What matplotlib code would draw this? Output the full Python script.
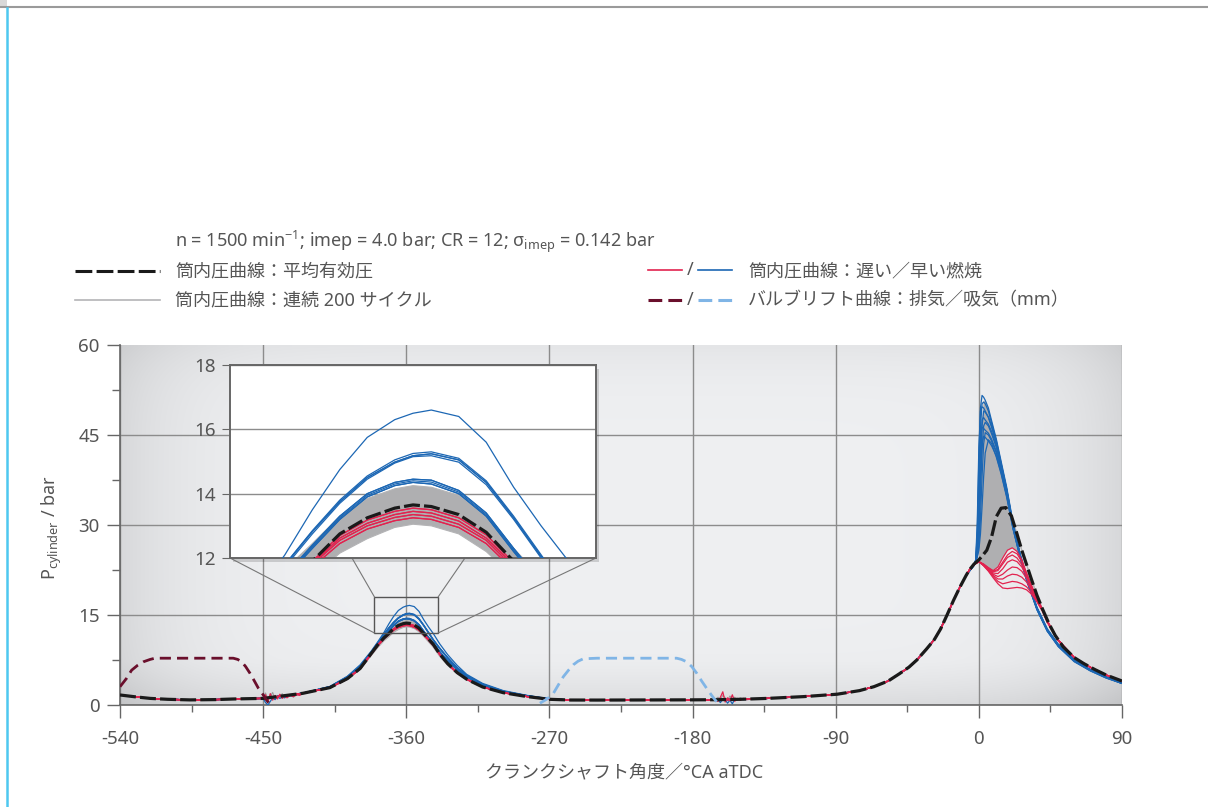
import numpy as np
import matplotlib
matplotlib.use("Agg")
import matplotlib.pyplot as plt
from matplotlib.lines import Line2D
from matplotlib.patches import Rectangle, Polygon, ConnectionPatch

plt.rcParams['font.family'] = ['Noto Sans', 'Noto Sans CJK JP', 'DejaVu Sans']
plt.rcParams['axes.unicode_minus'] = False
plt.rcParams['mathtext.fontset'] = 'custom'
plt.rcParams['mathtext.rm'] = 'Noto Sans'
plt.rcParams['mathtext.it'] = 'Noto Sans:italic'
plt.rcParams['mathtext.bf'] = 'Noto Sans:bold'

W, H = 1208, 807

# colours
BLUE = '#1c67b4'
RED = '#e2234f'
BLACK = '#1a1a1a'
GRAY_LINE = '#b4b4b6'
GRAY_FILL = '#afafb1'
MAROON = '#6a0f2c'
LIGHT_BLUE = '#80b5e6'
TEXT = '#555555'

# ---- data ----
# intake stroke (common to all cycles)
x_in = [-540, -530, -521, -510, -496, -480, -469, -460]
y_in = [1.67, 1.35, 1.1, 0.95, 0.85, 0.9, 1.0, 1.05]

# gas exchange TDC region (-450 .. -257)
x_cmp = [-450, -425, -408, -397, -389, -382, -378, -374, -371, -368,
         -365, -362, -360, -358, -355, -352, -349, -346, -343, -339,
         -334, -328, -322, -312, -299, -284, -270, -257]
mean_cmp = [1.1, 1.95, 2.9, 4.4, 6.1, 8.6, 10.0, 11.2, 11.9, 12.75,
            13.25, 13.55, 13.65, 13.6, 13.35, 12.8, 11.9, 11.0, 10.1, 8.5,
            6.9, 5.4, 4.3, 3.0, 2.05, 1.4, 0.95, 0.83]
gray_hi = [1.1, 1.97, 2.95, 4.5, 6.25, 8.9, 10.4, 11.65, 12.45, 13.3,
           13.85, 14.15, 14.25, 14.2, 13.95, 13.35, 12.3, 11.4, 10.5, 8.85,
           7.15, 5.55, 4.4, 3.1, 2.1, 1.43, 0.97, 0.84]
gray_lo = [1.1, 1.92, 2.85, 4.3, 5.95, 8.3, 9.6, 10.75, 11.4, 12.15,
           12.6, 12.95, 13.05, 13.0, 12.75, 12.2, 11.4, 10.5, 9.6, 8.1,
           6.6, 5.2, 4.15, 2.95, 2.0, 1.38, 0.93, 0.82]
red_cmp = [
    [1.1, 1.95, 2.9, 4.4, 6.1, 8.6, 10.0, 11.2, 11.9, 12.7,
     13.18, 13.45, 13.55, 13.5, 13.25, 12.72, 11.85, 10.95, 10.05, 8.5,
     6.9, 5.4, 4.3, 3.0, 2.05, 1.4, 0.95, 0.83],
    [1.1, 1.95, 2.9, 4.4, 6.1, 8.55, 9.95, 11.15, 11.85, 12.62,
     13.08, 13.35, 13.45, 13.4, 13.15, 12.62, 11.78, 10.9, 10.0, 8.45,
     6.88, 5.4, 4.3, 3.0, 2.05, 1.4, 0.95, 0.83],
    [1.1, 1.94, 2.88, 4.38, 6.05, 8.5, 9.9, 11.1, 11.8, 12.55,
     13.0, 13.26, 13.35, 13.3, 13.05, 12.55, 11.7, 10.85, 9.95, 8.45,
     6.85, 5.38, 4.3, 3.0, 2.05, 1.4, 0.95, 0.83],
    [1.1, 1.93, 2.87, 4.35, 6.0, 8.45, 9.85, 11.05, 11.72, 12.45,
     12.9, 13.16, 13.25, 13.2, 12.95, 12.45, 11.62, 10.8, 9.9, 8.4,
     6.82, 5.36, 4.28, 3.0, 2.05, 1.4, 0.95, 0.83],
]
blue_cmp = [
    [1.1, 2.0, 3.1, 4.8, 6.7, 9.0, 10.5, 12.1, 13.5, 14.75,
     15.75, 16.3, 16.5, 16.6, 16.4, 15.6, 14.2, 13.0, 11.9, 10.2,
     8.4, 6.6, 5.1, 3.6, 2.4, 1.6, 1.05, 0.85],
    [1.1, 1.98, 3.05, 4.7, 6.5, 8.8, 10.3, 11.8, 12.85, 13.8,
     14.55, 15.05, 15.25, 15.3, 15.1, 14.4, 13.3, 12.1, 10.9, 9.5,
     7.9, 6.2, 4.9, 3.45, 2.3, 1.55, 1.0, 0.85],
    [1.1, 1.98, 3.05, 4.7, 6.5, 8.8, 10.3, 11.78, 12.82, 13.75,
     14.5, 14.98, 15.18, 15.24, 15.05, 14.35, 13.25, 12.05, 10.85, 9.45,
     7.9, 6.2, 4.9, 3.45, 2.3, 1.55, 1.0, 0.85],
    [1.1, 1.98, 3.05, 4.7, 6.5, 8.75, 10.25, 11.72, 12.75, 13.7,
     14.45, 14.95, 15.15, 15.18, 14.98, 14.28, 13.2, 12.0, 10.8, 9.4,
     7.85, 6.2, 4.9, 3.45, 2.3, 1.55, 1.0, 0.85],
    [1.1, 1.97, 3.0, 4.6, 6.35, 8.6, 10.1, 11.45, 12.4, 13.3,
     14.0, 14.35, 14.45, 14.42, 14.1, 13.4, 12.3, 11.25, 10.3, 8.9,
     7.4, 5.9, 4.7, 3.3, 2.2, 1.5, 1.0, 0.84],
    [1.1, 1.97, 3.0, 4.6, 6.35, 8.6, 10.08, 11.42, 12.35, 13.25,
     13.95, 14.3, 14.4, 14.36, 14.05, 13.35, 12.25, 11.2, 10.25, 8.85,
     7.4, 5.9, 4.7, 3.3, 2.2, 1.5, 1.0, 0.84],
    [1.1, 1.97, 3.0, 4.6, 6.35, 8.55, 10.05, 11.38, 12.3, 13.2,
     13.9, 14.25, 14.35, 14.3, 14.0, 13.3, 12.2, 11.15, 10.2, 8.8,
     7.35, 5.9, 4.7, 3.3, 2.2, 1.5, 1.0, 0.84],
]
blue_cmp_of_cycle = [0, 1, 2, 3, 4, 5, 6, 4, 2, 6]
red_cmp_of_cycle = [0, 1, 2, 3, 0, 1, 2, 3]

# low pressure part up to ignition
x_mid = [-240, -225, -210, -195, -180, -165, -150, -133, -110, -89,
         -75, -66, -57, -50, -44, -39, -33, -28, -24, -20, -16, -12, -8]
y_mid = [0.82, 0.83, 0.84, 0.85, 0.86, 0.88, 0.95, 1.1, 1.4, 1.8,
         2.4, 3.05, 4.0, 5.2, 6.3, 7.5, 9.3, 10.9, 12.7, 15.0, 17.4, 19.6, 21.6]

# combustion: mean
x_mean_c = [-6, -3, 0, 2, 5, 8, 11, 14, 17, 20.5, 24, 27, 30, 33, 36.5,
            40, 44, 48, 53, 60, 66, 73, 80, 85, 90]
mean_c = [22.5, 23.5, 24.2, 24.8, 25.8, 28.0, 31.4, 32.8, 32.9, 31.5, 28.5,
          25.8, 23.4, 21.0, 18.3, 16.0, 13.6, 11.6, 9.7, 7.9, 6.9, 5.9, 5.0, 4.5, 4.0]

# combustion: early burning cycles
x_blue_c = [-6, -3, -2, -1, 0, 1, 2, 3, 4, 6, 8, 11, 14, 17.5, 21.5, 26, 30,
            36.5, 43, 50, 60, 70, 80, 90]
blue_c = [
    [22.4, 23.4, 24.0, 29.0, 41.0, 49.5, 51.6, 51.3, 50.8, 49.5, 47.4, 44.3,
     40.6, 36.3, 30.4, 25.2, 21.4, 16.3, 12.7, 10.1, 7.5, 5.9, 4.7, 3.7],
    [22.4, 23.4, 24.1, 27.0, 36.0, 46.0, 50.2, 50.5, 50.2, 49.0, 47.0, 44.0,
     40.3, 36.0, 30.2, 25.0, 21.3, 16.2, 12.6, 10.0, 7.5, 5.9, 4.7, 3.7],
    [22.4, 23.4, 24.2, 30.5, 43.0, 49.0, 49.7, 49.5, 49.0, 47.9, 46.3, 43.6,
     40.0, 35.8, 30.0, 24.9, 21.2, 16.2, 12.6, 10.0, 7.5, 5.9, 4.6, 3.7],
    [22.3, 23.3, 23.9, 25.5, 30.0, 39.0, 46.5, 49.0, 48.8, 48.0, 46.5, 43.8,
     40.1, 35.9, 30.1, 25.0, 21.2, 16.2, 12.6, 10.0, 7.5, 5.9, 4.6, 3.7],
    [22.3, 23.3, 24.0, 26.5, 33.0, 42.0, 47.5, 47.9, 47.5, 46.8, 45.6, 43.2,
     39.8, 35.6, 29.9, 24.9, 21.1, 16.1, 12.5, 9.9, 7.4, 5.8, 4.6, 3.6],
    [22.3, 23.3, 23.9, 25.0, 28.0, 35.0, 42.5, 46.5, 47.1, 46.5, 45.2, 42.9,
     39.6, 35.5, 29.8, 24.8, 21.0, 16.1, 12.5, 9.9, 7.4, 5.8, 4.6, 3.6],
    [22.3, 23.4, 24.1, 28.0, 38.0, 44.5, 46.3, 46.1, 45.8, 45.3, 44.3, 42.3,
     39.2, 35.2, 29.6, 24.7, 21.0, 16.0, 12.4, 9.8, 7.3, 5.8, 4.6, 3.6],
    [22.3, 23.3, 23.8, 24.8, 26.5, 31.0, 38.0, 43.5, 45.4, 45.0, 44.0, 42.0,
     39.0, 35.0, 29.5, 24.6, 20.9, 16.0, 12.4, 9.8, 7.3, 5.8, 4.6, 3.6],
    [22.3, 23.3, 24.0, 26.0, 31.0, 38.5, 43.5, 44.8, 44.6, 44.0, 43.2, 41.5,
     38.7, 34.8, 29.4, 24.5, 20.8, 15.9, 12.3, 9.8, 7.3, 5.7, 4.5, 3.6],
    [22.3, 23.3, 23.8, 24.6, 25.8, 28.5, 33.0, 38.0, 42.0, 44.2, 43.6, 41.3,
     38.5, 34.6, 29.3, 24.5, 20.8, 15.9, 12.3, 9.7, 7.2, 5.7, 4.5, 3.6],
]

# combustion: late burning cycles
x_red_c = [-6, -3, 0, 3, 6, 9, 12, 15, 18, 21, 24, 27, 30, 33, 36.5, 40, 43,
           50, 60, 70, 80, 90]
red_c = [
    [22.5, 23.4, 23.9, 23.5, 22.9, 22.4, 23.0, 24.5, 25.8, 26.2, 25.6,
     24.2, 22.0, 20.0, 17.8, 15.9, 14.0, 10.8, 7.9, 6.3, 5.0, 4.0],
    [22.5, 23.4, 23.9, 23.4, 22.8, 22.3, 22.6, 23.8, 25.0, 25.6, 25.2,
     23.9, 21.9, 19.9, 17.8, 15.9, 14.0, 10.8, 7.9, 6.3, 5.0, 4.0],
    [22.5, 23.4, 23.9, 23.4, 22.8, 22.2, 22.4, 23.5, 24.6, 25.0, 24.5,
     23.4, 21.7, 19.8, 17.7, 15.9, 14.0, 10.8, 7.9, 6.3, 5.0, 4.0],
    [22.5, 23.4, 23.9, 23.4, 22.7, 22.0, 21.9, 22.7, 23.8, 24.2, 23.9,
     23.0, 21.5, 19.7, 17.7, 15.9, 14.0, 10.8, 7.9, 6.3, 5.0, 4.0],
    [22.5, 23.4, 23.9, 23.3, 22.6, 21.8, 21.4, 21.8, 22.5, 23.0, 22.9,
     22.3, 21.1, 19.5, 17.6, 15.8, 13.9, 10.8, 7.9, 6.3, 5.0, 4.0],
    [22.5, 23.4, 23.9, 23.3, 22.5, 21.6, 21.0, 21.0, 21.5, 21.8, 21.7,
     21.3, 20.5, 19.2, 17.5, 15.8, 13.9, 10.7, 7.9, 6.3, 5.0, 4.0],
    [22.5, 23.4, 23.9, 23.2, 22.4, 21.4, 20.6, 20.2, 20.4, 20.6, 20.5,
     20.2, 19.7, 18.8, 17.3, 15.7, 13.8, 10.7, 7.9, 6.3, 5.0, 4.0],
    [22.5, 23.4, 23.9, 23.2, 22.3, 21.2, 20.2, 19.5, 19.4, 19.5, 19.6,
     19.5, 19.2, 18.5, 17.2, 15.6, 13.8, 10.7, 7.9, 6.3, 5.0, 4.0],
]

# band of the 200 cycles around firing TDC
gray_poly_x = [0, 1, 2, 3, 4, 6, 8, 11, 14, 17.5, 21.5, 26,
               24, 21, 18, 15, 12, 9, 6, 3]
gray_poly_y = [24.2, 38.0, 47.0, 50.5, 50.8, 49.5, 47.4, 44.3, 40.6, 36.3, 30.4, 25.2,
               25.6, 26.2, 25.8, 24.5, 23.0, 22.4, 22.9, 23.5]

# valve ringing noise
nz1_x = [-450, -448.5, -447, -445.5, -444, -442.5, -441, -439.5, -438, -436.5,
         -435, -433, -431, -429, -427, -425]
nz1_gray = [1.1, 2.0, 1.0, 1.4, 2.1, 0.9, 1.6, 1.3, 1.9, 1.2, 1.5, 1.8, 1.3, 1.7, 1.8, 1.95]
nz1_blue = [1.1, 0.4, 0.0, 0.6, 1.2, 0.9, 1.4, 1.1, 1.3, 1.2, 1.4, 1.5, 1.55, 1.7, 1.8, 1.95]
nz1_red = [1.1, 1.7, 0.6, 1.9, 0.8, 1.6, 1.0, 1.8, 1.1, 1.5, 1.2, 1.6, 1.4, 1.7, 1.6, 1.95]
nz2_x = [-166, -164, -162.5, -161, -159.5, -158, -156.5, -155, -153.5, -152,
         -150, -148, -146, -144]
nz2_gray = [0.88, 1.3, 0.9, 1.6, 1.2, 0.8, 1.5, 1.0, 1.3, 0.8, 1.2, 0.9, 1.0, 0.95]
nz2_blue = [0.88, 0.9, 0.4, 1.0, 0.9, 0.3, 0.8, 0.2, 1.0, 0.9, 0.95, 0.9, 0.92, 0.95]
nz2_red = [0.88, 0.6, 1.3, 2.2, 0.5, 1.2, 0.7, 1.7, 0.6, 1.1, 0.8, 1.1, 0.9, 0.95]

# valve lift (mm)
exh_x = [-540, -536, -532.7, -529, -525.3, -521, -518, -500, -480, -468.8,
         -466, -463.5, -461, -458.3, -455.5, -453, -450, -447.8, -446]
exh_y = [3.05, 4.4, 5.8, 6.6, 7.2, 7.6, 7.8, 7.8, 7.8, 7.8,
         7.6, 7.2, 6.4, 5.3, 4.0, 2.8, 1.7, 0.8, 0.2]
int_x = [-276, -271.5, -267.6, -264.5, -261.3, -258, -255, -252, -248.7, -240,
         -220, -200, -190, -187, -183.7, -180.5, -177.4, -174.3, -171.2, -168, -164.9]
int_y = [0.3, 1.0, 1.9, 3.3, 4.7, 5.8, 6.7, 7.3, 7.7, 7.8,
         7.8, 7.8, 7.8, 7.6, 7.2, 6.4, 5.3, 4.0, 2.8, 1.6, 0.55]

x_ticks = [-540, -450, -360, -270, -180, -90, 0, 90]
y_ticks = [0, 15, 30, 45, 60]


def fx(px):
    return px / W


def fy(py):
    return 1 - py / H


def cycle(cmp_y, comb_x, comb_y):
    return x_in + x_cmp + x_mid + comb_x, y_in + cmp_y + y_mid + comb_y


def draw_curves(a, noise=False):
    a.fill_between(x_cmp, gray_lo, gray_hi, color=GRAY_FILL, lw=0, zorder=2)
    a.add_patch(Polygon(list(zip(gray_poly_x, gray_poly_y)), closed=True,
                        facecolor=GRAY_FILL, edgecolor='none', zorder=2))
    for gy in (gray_hi, gray_lo):
        xs, ys = cycle(gy, x_mean_c, mean_c)
        a.plot(xs, ys, color=GRAY_LINE, lw=0.8, zorder=2)
    if noise:
        a.plot(nz1_x, nz1_gray, color='#9c9c9c', lw=0.8, zorder=2)
        a.plot(nz2_x, nz2_gray, color='#9c9c9c', lw=0.8, zorder=2)
        a.plot(nz1_x, nz1_blue, color=BLUE, lw=0.9, zorder=3)
        a.plot(nz2_x, nz2_blue, color=BLUE, lw=0.9, zorder=3)
        a.plot(nz1_x, nz1_red, color=RED, lw=0.9, zorder=4)
        a.plot(nz2_x, nz2_red, color=RED, lw=0.9, zorder=4)
    for i, comb in enumerate(blue_c):
        xs, ys = cycle(blue_cmp[blue_cmp_of_cycle[i]], x_blue_c, comb)
        a.plot(xs, ys, color=BLUE, lw=0.9, zorder=3)
    for i, comb in enumerate(red_c):
        xs, ys = cycle(red_cmp[red_cmp_of_cycle[i]], x_red_c, comb)
        a.plot(xs, ys, color=RED, lw=0.9, zorder=4)
    xs, ys = cycle(mean_cmp, x_mean_c, mean_c)
    a.plot(xs, ys, color=BLACK, lw=2.3, dashes=(5, 1.3), zorder=5)


fig = plt.figure(figsize=(W / 100, H / 100), dpi=100)
fig.patch.set_facecolor('white')

# main axes
ax = fig.add_axes([fx(120), fy(705), 1002 / W, 360 / H], zorder=0)
ax.set_facecolor('white')
u = np.linspace(0, 1, 300)
v = np.linspace(0, 1, 120)
U, V = np.meshgrid(u, v)
shade = 0.935 - 0.09 * np.abs(2 * U - 1) ** 7 - 0.04 * np.abs(2 * V - 1) ** 6
shade -= 0.035 * np.clip((0.12 - V) / 0.12, 0, 1)
rgb = np.dstack([shade, shade + 0.004, shade + 0.012]).clip(0, 1)
ax.imshow(rgb, extent=[0, 1, 0, 1], transform=ax.transAxes, aspect='auto',
          origin='lower', zorder=0, interpolation='bilinear')

draw_curves(ax, noise=True)
ax.plot(exh_x, exh_y, color=MAROON, lw=2.0, dashes=(4, 2.2), zorder=6)
ax.plot(int_x, int_y, color=LIGHT_BLUE, lw=2.0, dashes=(4, 2.2), zorder=6)
ax.add_patch(Rectangle((-380, 12), 40, 6, fill=False, ec='#555555', lw=1.0, zorder=7))

ax.set_xlim(-540, 90)
ax.set_ylim(0, 60)
ax.set_xticks(x_ticks)
ax.set_xticklabels([str(t) for t in x_ticks])
ax.set_xticks([t + 45 for t in x_ticks[:-1]], minor=True)
ax.set_yticks(y_ticks)
ax.set_yticks([7.5, 22.5, 37.5, 52.5], minor=True)
ax.tick_params(axis='both', which='both', color='#666666', width=1,
               labelsize=13.5, labelcolor=TEXT)
ax.tick_params(axis='y', which='major', length=9.5, pad=5)
ax.tick_params(axis='y', which='minor', length=6)
ax.tick_params(axis='x', which='major', length=9, pad=9)
ax.tick_params(axis='x', which='minor', length=5)
ax.grid(True, which='major', color='#8c8c8c', lw=1.0)
ax.set_axisbelow(True)
ax.yaxis.get_gridlines()[-1].set_visible(False)
for side in ('top', 'right'):
    ax.spines[side].set_visible(False)
for side in ('left', 'bottom'):
    ax.spines[side].set_color('#666666')
    ax.spines[side].set_linewidth(1.2)

# inset shadow
fig.add_artist(Rectangle((fx(233), fy(562)), 366 / W, 193 / H,
                         transform=fig.transFigure, facecolor='#000000',
                         alpha=0.15, edgecolor='none', zorder=1))

# inset
ax_in = fig.add_axes([fx(230), fy(558), 366 / W, 193 / H], zorder=2)
ax_in.set_facecolor('white')
draw_curves(ax_in)
ax_in.set_xlim(-380, -340)
ax_in.set_ylim(12, 18)
ax_in.set_xticks([])
ax_in.set_yticks([12, 14, 16, 18])
ax_in.tick_params(axis='y', length=6, color='#666666', labelsize=13.5,
                  labelcolor=TEXT, pad=4)
ax_in.grid(True, axis='y', color='#8c8c8c', lw=1.0)
for s in ax_in.spines.values():
    s.set_color('#666666')
    s.set_linewidth(1.4)

for fa, pb in [((0, 0), (-380, 12)), ((1 / 3, 0), (-380, 18)),
               ((0.642, 0), (-340, 18)), ((1, 0), (-340, 12))]:
    con = ConnectionPatch(xyA=fa, coordsA=ax_in.transAxes, xyB=pb,
                          coordsB=ax.transData, color='#777777', lw=0.8)
    con.set_zorder(1.5)
    fig.add_artist(con)

# axis labels
fig.text(fx(624), fy(772), 'クランクシャフト角度／°CA aTDC', fontsize=13,
         color=TEXT, ha='center', va='center')
fig.text(fx(52), fy(527), r'P$_{\mathrm{cylinder}}$ / bar', fontsize=13,
         color=TEXT, ha='center', va='center', rotation=90)

# header and legend
fig.text(fx(175), fy(242),
         r'n = 1500 min$^{\mathrm{-1}}$; imep = 4.0 bar; CR = 12; '
         r'$\mathrm{\sigma}_{\mathrm{imep}}$ = 0.142 bar',
         fontsize=13, color=TEXT, va='center')


def leg_line(x0, x1, y, **kw):
    fig.add_artist(Line2D([fx(x0), fx(x1)], [fy(y), fy(y)],
                          transform=fig.transFigure, **kw))


leg_line(75, 160, 271, color=BLACK, lw=2.2, dashes=(5.5, 1.4))
leg_line(75, 160, 300, color=GRAY_LINE, lw=1.2)
leg_line(648, 682, 270, color=RED, lw=1.2)
leg_line(698, 732, 270, color=BLUE, lw=1.2)
leg_line(648, 682, 300, color=MAROON, lw=2.2, dashes=(4.5, 2.0))
leg_line(698, 732, 300, color=LIGHT_BLUE, lw=2.2, dashes=(4.5, 2.0))
fig.text(fx(690), fy(270), '/', fontsize=13, color=TEXT, ha='center', va='center')
fig.text(fx(690), fy(300), '/', fontsize=13, color=TEXT, ha='center', va='center')
fig.text(fx(175), fy(271), '筒内圧曲線：平均有効圧', fontsize=13, color=TEXT, va='center')
fig.text(fx(175), fy(300), '筒内圧曲線：連続 200 サイクル', fontsize=13, color=TEXT, va='center')
fig.text(fx(748), fy(271), '筒内圧曲線：遅い／早い燃焼', fontsize=13, color=TEXT, va='center')
fig.text(fx(748), fy(300), 'バルブリフト曲線：排気／吸気（mm）', fontsize=13, color=TEXT, va='center')

# page decoration
fig.add_artist(Line2D([0, 1], [fy(7), fy(7)], transform=fig.transFigure,
                      color='#9a9a9a', lw=1.5))
fig.add_artist(Line2D([fx(7), fx(7)], [fy(8), 0], transform=fig.transFigure,
                      color='#4ec8f0', lw=1.8))
fig.add_artist(Rectangle((0, fy(6)), fx(7), 6 / H, transform=fig.transFigure,
                         facecolor='#d9d9d9', edgecolor='none'))

fig.savefig('out.png', dpi=100)
